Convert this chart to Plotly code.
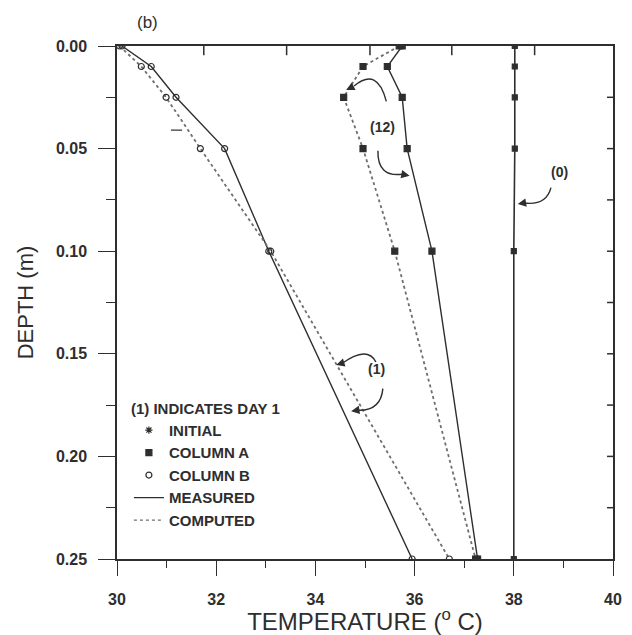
import plotly.graph_objects as go

# depth of the sensors (m)
depth = [0.0, 0.01, 0.025, 0.05, 0.10, 0.25]

# temperatures (deg C)
initial_temp = [38.02, 38.02, 38.02, 38.02, 38.0, 38.0]
day1_measured = [30.1, 30.69, 31.19, 32.17, 33.06, 35.95]
day1_computed = [30.05, 30.49, 30.99, 31.68, 33.1, 36.7]
day12_measured = [35.75, 35.45, 35.75, 35.85, 36.35, 37.27]
day12_computed = [35.69, 34.96, 34.57, 34.96, 35.6, 37.23]

# stray column A mark near the day 1 profile
stray_temp = [31.2]
stray_depth = [0.041]

x_ticks = [30, 32, 34, 36, 38, 40]
y_ticks = [0.0, 0.05, 0.10, 0.15, 0.20, 0.25]
top_ticks = [31.75, 33.42, 35.1, 36.75, 38.42]
right_ticks = [0.025, 0.05, 0.075, 0.10, 0.125, 0.15, 0.175, 0.20, 0.225]

INK = "#2e2e2e"
DOT = "#6e6e6e"
FONT = "Liberation Sans, Arial, sans-serif"

fig = go.Figure()


def line(x, y, dash, color, width=1.4):
    fig.add_trace(go.Scatter(x=x, y=y, mode="lines", showlegend=False,
                             line={"color": color, "width": width, "dash": dash},
                             hoverinfo="skip"))


def marks(x, y, symbol, size, color=INK):
    fig.add_trace(go.Scatter(x=x, y=y, mode="markers", showlegend=False,
                             marker={"symbol": symbol, "size": size, "color": color,
                                     "line": {"color": color, "width": 1.2}},
                             hoverinfo="skip"))


# profiles
line(initial_temp, depth, "solid", INK, 1.6)
marks(initial_temp, depth, "square", 5)
line(day12_measured, depth, "solid", INK)
line(day12_computed, depth, "dot", DOT, 1.8)
marks(day12_measured, depth, "square", 6)
marks(day12_computed, depth, "square", 6)
line(day1_measured, depth, "solid", INK)
line(day1_computed, depth, "dot", DOT, 1.8)
marks(day1_measured, depth, "circle-open", 6)
marks(day1_computed, depth, "circle-open", 6)
marks(stray_temp, stray_depth, "line-ew-open", 8)

# legend entries
legend_items = [("INITIAL", "asterisk-open", None), ("COLUMN A", "square", None),
                ("COLUMN B", "circle-open", None), ("MEASURED", None, "solid"),
                ("COMPUTED", None, "dot")]
for name, symbol, dash in legend_items:
    if symbol:
        fig.add_trace(go.Scatter(x=[None], y=[None], mode="markers", name=name,
                                 marker={"symbol": symbol, "size": 6, "color": INK,
                                         "line": {"color": INK, "width": 1.2}}))
    else:
        fig.add_trace(go.Scatter(x=[None], y=[None], mode="lines", name=name,
                                 line={"color": INK if dash == "solid" else DOT,
                                       "width": 1.4, "dash": dash}))

# inward ticks on the top and right frame
for t in top_ticks:
    fig.add_shape(type="line", xref="x", yref="paper", x0=t, x1=t, y0=1, y1=0.982,
                  line={"color": INK, "width": 1.5})
for d in right_ticks:
    fig.add_shape(type="line", xref="paper", yref="y", x0=1, x1=0.988, y0=d, y1=d,
                  line={"color": INK, "width": 1.5})

# curved pointer arrows: (start, control, end, tip)
arrows = [
    ((35.43, 0.027), (35.25, 0.010), (34.78, 0.0195), (34.62, 0.0215)),
    ((35.26, 0.051), (35.25, 0.064), (35.75, 0.0625), (35.9, 0.0632)),
    ((38.75, 0.069), (38.65, 0.078), (38.2, 0.0765), (38.08, 0.077)),
    ((35.22, 0.154), (35.05, 0.146), (34.55, 0.1545), (34.42, 0.1555)),
    ((35.36, 0.167), (35.32, 0.178), (34.85, 0.1775), (34.72, 0.178)),
]
for (x0, y0), (cx, cy), (x1, y1), (xt, yt) in arrows:
    fig.add_shape(type="path", xref="x", yref="y",
                  path=f"M {x0},{y0} Q {cx},{cy} {x1},{y1}",
                  line={"color": INK, "width": 1.4})
    fig.add_annotation(x=xt, y=yt, ax=x1, ay=y1, xref="x", yref="y", axref="x",
                       ayref="y", text="", showarrow=True, arrowhead=2,
                       arrowsize=1.2, arrowwidth=1.4, arrowcolor=INK)

labels = [("(12)", 35.35, 0.0395), ("(0)", 38.92, 0.0615), ("(1)", 35.24, 0.1575)]
for text, x, y in labels:
    fig.add_annotation(x=x, y=y, xref="x", yref="y", text=f"<b>{text}</b>",
                       showarrow=False, font={"size": 14, "color": INK, "family": FONT})

fig.add_annotation(x=0.037, y=1.045, xref="paper", yref="paper", text="(b)",
                   yanchor="middle", showarrow=False,
                   font={"size": 17, "color": INK, "family": FONT})

fig.update_layout(
    width=632, height=635,
    margin={"l": 117, "r": 10, "t": 46, "b": 73},
    paper_bgcolor="white", plot_bgcolor="white",
    font={"family": FONT, "color": INK, "size": 16},
    legend={"x": 0.024, "y": 0.321, "xanchor": "left", "yanchor": "top",
            "title": {"text": "(1) INDICATES DAY 1",
                      "font": {"size": 15, "weight": "bold"}},
            "font": {"size": 15, "weight": "bold"}, "bgcolor": "rgba(0,0,0,0)",
            "tracegroupgap": 0},
    xaxis={"range": [30, 40], "tickvals": x_ticks, "ticks": "outside", "ticklen": 15,
           "tickwidth": 1.4, "tickcolor": INK, "minor": {"dtick": 1, "ticks": "outside",
           "ticklen": 7, "tickcolor": INK, "tickwidth": 1.4},
           "ticklabelstandoff": 10, "tickfont": {"size": 16, "weight": "bold"},
           "showline": True, "mirror": True, "linecolor": INK, "linewidth": 1.5,
           "showgrid": False, "zeroline": False,
           "title": {"text": "TEMPERATURE (<sup>o</sup> C)", "font": {"size": 24},
                     "standoff": 0}},
    yaxis={"range": [0.25, 0], "tickvals": y_ticks, "tickformat": ".2f",
           "ticks": "outside", "ticklen": 17, "tickwidth": 1.4, "tickcolor": INK,
           "minor": {"dtick": 0.025, "ticks": "outside", "ticklen": 9,
                     "tickcolor": INK, "tickwidth": 1.4},
           "ticklabelstandoff": 8, "tickfont": {"size": 16, "weight": "bold"},
           "showline": True, "mirror": True, "linecolor": INK, "linewidth": 1.5,
           "showgrid": False, "zeroline": False,
           "title": {"text": "DEPTH (m)", "font": {"size": 22}, "standoff": 16}},
)

# drop the browser's default 8 px body margin so the figure fills the window
fig.write_html("out.html", config={"displayModeBar": False},
               post_script="document.body.style.margin = '0';")
